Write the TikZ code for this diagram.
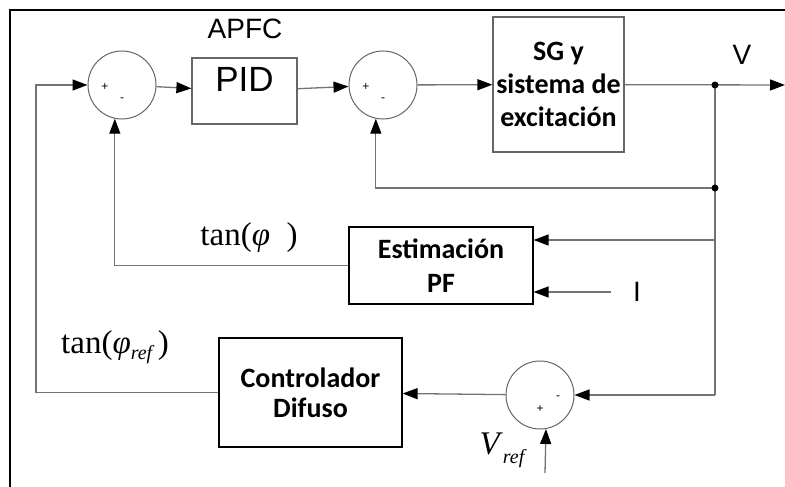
\documentclass[tikz,border=0pt]{standalone}
\usepackage{fontspec}
\usepackage{amsmath,amssymb}
\newfontfamily\arialf{Liberation Sans}
\newfontfamily\calibf{Carlito}
\newfontfamily\tnrf{Liberation Serif}
\usetikzlibrary{arrows.meta}

\begin{document}
\begin{tikzpicture}[x=1pt,y=-1pt,
	line/.style={draw=black!55,line width=1.3pt},
	sum/.style={circle,draw=black!60,line width=1pt,minimum size=68pt,inner sep=0pt},
	block/.style={draw=black!60,line width=1.2pt,inner sep=0pt,align=center},
	blk/.style 2 args={font=\calibf\bfseries\fontsize{#1}{#2}\selectfont},
	sgn/.style={font=\arialf\fontsize{12}{12}\selectfont},
	>={Triangle[length=15pt,width=11pt,color=black]}]
	 \useasboundingbox (0,0) rectangle (785,487);%for adjustment
	 \draw[line width=2pt] (10,487)--(10,10)--(785,10);

	 \node[sum] (s1) at (122,85) {};
	 \node[sum] (s2) at (383,85) {};
	 \node[sum] (s3) at (540,395) {};

	 \node[block,minimum width=105pt,minimum height=66pt,text height=25pt,text depth=23pt,
	   font=\arialf\fontsize{35}{35}\selectfont] (pid) at (244.5,91) {PID};
	 \node[block,minimum width=131pt,minimum height=135pt,blk={28}{33}] (sg) at (558.5,84.5)
	   {SG y\\sistema de\\excitación};
	 \node[block,draw=black,minimum width=184pt,minimum height=77pt,blk={28}{34}] (est) at (441,265.5)
	   {Estimación\\PF};
	 \node[block,draw=black,minimum width=183pt,minimum height=109pt,blk={28}{30}] (ctrl) at (310.5,392.5)
	   {Controlador\\Difuso};

	 \foreach \s in {s1,s2}{
	   \node[sgn] at ([shift={(-17,2)}]\s) {+};
	   \node[sgn] at ([shift={(0,15)}]\s) {-};
	 }
	 \node[sgn] (p3) at (540,409) {+};
	 \node[sgn] (m3) at (558,398) {-};

	 \coordinate (j1) at (715,85);
	 \coordinate (j2) at (715,188);
	 \coordinate (j3) at (715,395);
	 \coordinate (out) at (785,85);
	 \coordinate (e1) at (715,240);
	 \coordinate (iin) at (611,292);
	 \coordinate (lft) at (36,85);
	 \coordinate (vin) at (545,473);

	 \draw[line,->] (s1) -- (pid);
	 \draw[line,->] (pid) -- (s2);
	 \draw[line,->] (s2) -- (sg);
	 \draw[line,->] (sg) -- (out);
	 \draw[line] (j1) -- (j3);
	 \draw[line,->] (j3) -- (s3);
	 \draw[line,->] (j2) -| (s2.258);
	 \draw[line,->] (e1) -- (e1 -| est.east);
	 \draw[line,->] (iin) -- (iin -| est.east);
	 \draw[line,->] (est.west) -| (s1.258);
	 \draw[line,->] (ctrl.west) -| (lft) -- (s1);
	 \draw[line,->] (s3) -- (ctrl);
	 \draw[line,->] (vin) -- (s3.280);

	 \fill (j1) circle [radius=3.5];
	 \fill (j2) circle [radius=3.5];

	 \node[font=\arialf\fontsize{28}{28}\selectfont] (apfc) at (245,29) {APFC};
	 \node[font=\arialf\fontsize{28}{28}\selectfont] (vlab) at (742,55) {V};
	 \node[font=\arialf\fontsize{28}{28}\selectfont] (ilab) at (637,292) {I};
	 \node[font=\tnrf\fontsize{33}{33}\selectfont] (tphi) at (249,238) {tan(\textit{φ}\ \ )};
	 \node[font=\tnrf\fontsize{33}{33}\selectfont] (tref) at (115,347)
	   {tan(\textit{φ}\raisebox{-6pt}{\fontsize{20}{20}\selectfont\itshape ref}\,)};
	 \node[font=\tnrf\fontsize{33}{33}\selectfont] (vref) at (502,450)
	   {\textit{V}\raisebox{-9pt}{\fontsize{20}{20}\selectfont\itshape ref}};
\end{tikzpicture}
\end{document}
